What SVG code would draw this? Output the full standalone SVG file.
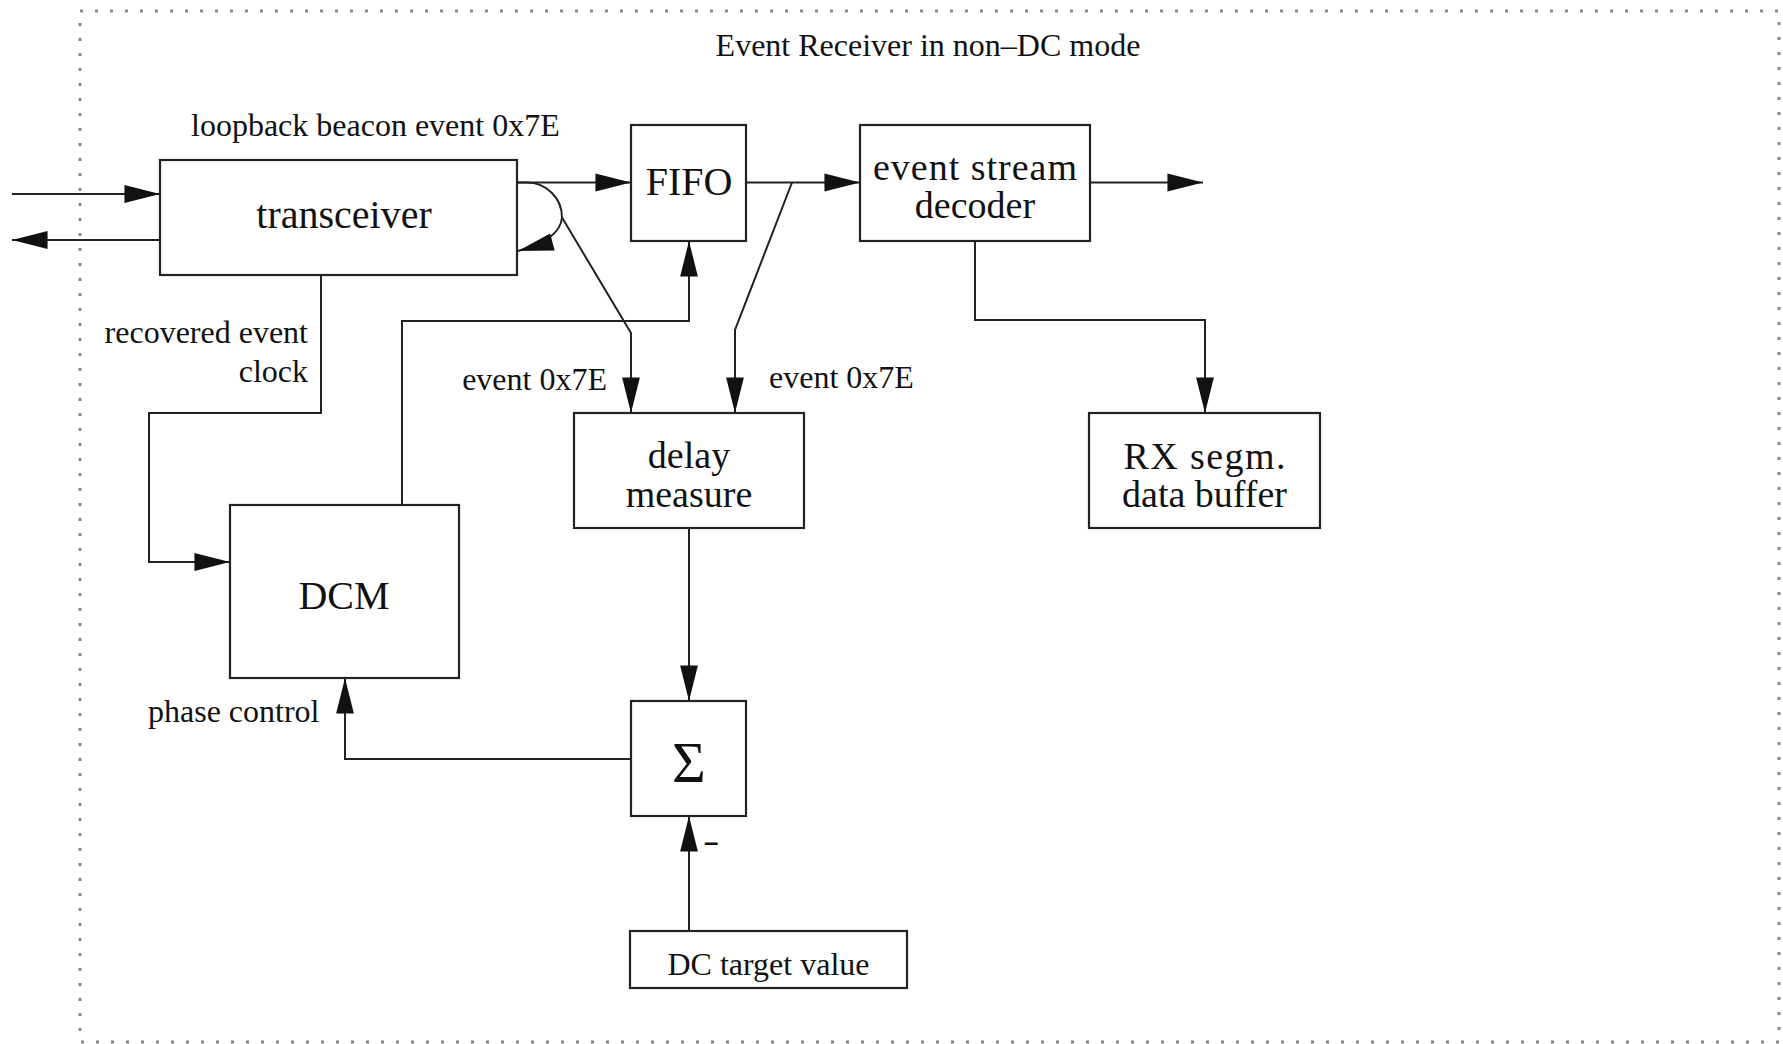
<svg xmlns="http://www.w3.org/2000/svg" width="1783" height="1044" viewBox="0 0 1783 1044">
<defs>
<style>
.box{fill:#fff;stroke:#222;stroke-width:2.2}
.ln{fill:none;stroke:#222;stroke-width:2}
.t{font-family:"Liberation Serif","Times New Roman",serif;fill:#111}
.s{font-size:32px}
.b{font-size:40px}
.b2{font-size:38px}
.m{text-anchor:middle}
.e{text-anchor:end}
</style>
<marker id="ah" markerUnits="userSpaceOnUse" markerWidth="40" markerHeight="24" viewBox="-34 -10 36 20" refX="0" refY="0" orient="auto">
<path d="M0,0 L-32,-8 L-32,8 z" fill="#111"/>
</marker>
</defs>
<rect id="frame" x="80" y="11" width="1699" height="1031" fill="none" stroke="#888" stroke-width="3" stroke-dasharray="3 12"/>
<text class="t s m" x="928" y="56">Event Receiver in non–DC mode</text>

<g id="connectors">
<path class="ln" d="M12,194 L160,194" marker-end="url(#ah)"/>
<path class="ln" d="M160,240 L12,240" marker-end="url(#ah)"/>
<path class="ln" d="M517,182.5 L631,182.5" marker-end="url(#ah)"/>
<path class="ln" d="M517,182.5 L527,182.5 A35,35 0 0 1 562,217.5 Q560,240 518,251" marker-end="url(#ah)"/>
<path class="ln" d="M562,217.5 L631,333 L631,413" marker-end="url(#ah)"/>
<path class="ln" d="M746,182.5 L860,182.5" marker-end="url(#ah)"/>
<path class="ln" d="M792,182.5 L735,330 L735,413" marker-end="url(#ah)"/>
<path class="ln" d="M1090,182.5 L1203,182.5" marker-end="url(#ah)"/>
<path class="ln" d="M975,241 L975,320 L1205,320 L1205,413" marker-end="url(#ah)"/>
<path class="ln" d="M321,275 L321,413 L149,413 L149,562 L230,562" marker-end="url(#ah)"/>
<path class="ln" d="M402,505 L402,321 L689,321 L689,241" marker-end="url(#ah)"/>
<path class="ln" d="M689,528 L689,701" marker-end="url(#ah)"/>
<path class="ln" d="M631,759 L345,759 L345,678" marker-end="url(#ah)"/>
<path class="ln" d="M689,931 L689,816" marker-end="url(#ah)"/>
</g>

<g id="labels">
<text class="t s" x="191" y="136">loopback beacon event 0x7E</text>
<text class="t s e" x="308" y="343">recovered event</text>
<text class="t s e" x="308" y="382">clock</text>
<text class="t s e" x="607" y="390">event 0x7E</text>
<text class="t s" x="769" y="388">event 0x7E</text>
<text class="t s" x="148" y="722">phase control</text>
<text x="704" y="851" font-family="Liberation Sans, Arial, sans-serif" font-size="26" font-weight="bold" fill="#111">–</text>
</g>

<g id="transceiver">
<rect class="box" x="160" y="160" width="357" height="115"/>
<text class="t b m" x="344" y="228">transceiver</text>
</g>
<g id="fifo">
<rect class="box" x="631" y="125" width="115" height="116"/>
<text class="t b m" x="689" y="195">FIFO</text>
</g>
<g id="decoder">
<rect class="box" x="860" y="125" width="230" height="116"/>
<text class="t b2 m" x="975" y="180" textLength="204">event stream</text>
<text class="t b2 m" x="975" y="218">decoder</text>
</g>
<g id="delay">
<rect class="box" x="574" y="413" width="230" height="115"/>
<text class="t b2 m" x="689" y="468">delay</text>
<text class="t b2 m" x="689" y="507">measure</text>
</g>
<g id="rxbuf">
<rect class="box" x="1089" y="413" width="231" height="115"/>
<text class="t b2 m" x="1204.5" y="469" textLength="162">RX segm.</text>
<text class="t b2 m" x="1204.5" y="507">data buffer</text>
</g>
<g id="dcm">
<rect class="box" x="230" y="505" width="229" height="173"/>
<text class="t b m" x="344" y="609">DCM</text>
</g>
<g id="sum">
<rect class="box" x="631" y="701" width="115" height="115"/>
<text class="t m" x="689" y="782" font-size="58">Σ</text>
</g>
<g id="target">
<rect class="box" x="630" y="931" width="277" height="57"/>
<text class="t s m" x="768.5" y="975">DC target value</text>
</g>
</svg>
